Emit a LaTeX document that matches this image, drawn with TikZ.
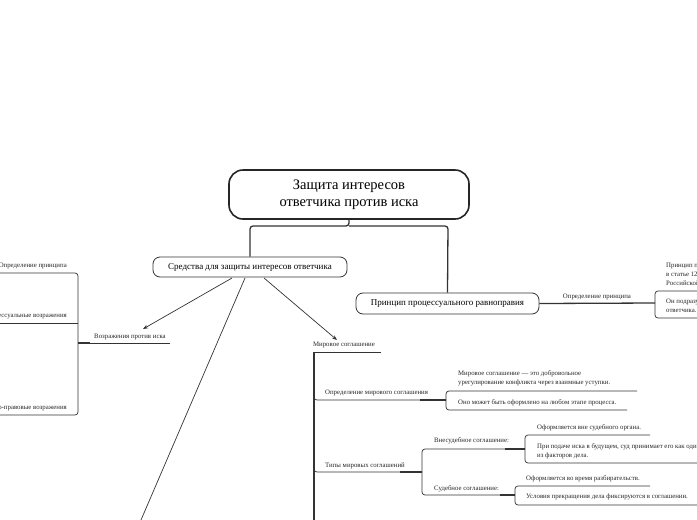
\documentclass[tikz,border=0pt]{standalone}
\usepackage{fontspec}
\setmainfont{Liberation Serif}
\usetikzlibrary{arrows.meta}
\begin{document}
\begin{tikzpicture}[x=1pt,y=-1pt,
  ln/.style={draw=black!80,line width=0.7pt},
  tk/.style={draw=black!80,line width=1.3pt},
  tx/.style={font=\fontsize{6.8}{9}\selectfont,inner sep=0pt,text=black!85},
  bx/.style={draw=black!80,line width=0.8pt,rounded corners=7pt,font=\fontsize{9}{11}\selectfont,inner sep=0pt}]
\useasboundingbox (0,0) rectangle (697,520);
\clip (0,0) rectangle (697,520);
% title
\node[draw=black!85,line width=1.6pt,rounded corners=14pt,minimum width=240pt,minimum height=49pt,align=center,font=\fontsize{14.5}{17}\selectfont] (root) at (349,194.5) {Защита интересов\\ответчика против иска};
\node[bx,minimum width=194pt,minimum height=20pt] (sr) at (250,267) {Средства для защиты интересов ответчика};
\node[bx,minimum width=183pt,minimum height=21pt] (pr) at (447.5,303.5) {Принцип процессуального равноправия};
\draw[tk,rounded corners=3pt] (root.south) -- (349,226) -- (250,226) -- (sr.north);
\draw[tk,rounded corners=3pt] (349,226) -- (448,226) -- (pr.north);
% right branch
\coordinate (rb) at (655,303);
\draw[tk] (pr.east) -- (rb);
\node[tx,anchor=south] (op) at (597,300) {Определение принципа};
\draw[ln,rounded corners=3pt] (697,291) -- (655,291) -- (655,318) -- (697,318);
\node[tx,anchor=west,align=left] (p1) at (666,274.5) {Принцип процессуального равноправия закреплен\\в статье 12 ГПК\\Российской Федерации.};
\node[tx,anchor=west,align=left] (p2) at (666,306) {Он подразумевает равные права истца и\\ответчика.};
% arrows from Средства
\node[tx] (vz) at (130,337) {Возражения против иска};
\node[tx] (ms) at (344,345) {Мировое соглашение};
\draw[ln,-{Stealth[length=5pt]}] (232,278) -- (143,329);
\draw[ln,-{Stealth[length=5pt]}] (264,278) -- (337,340);
\draw[ln] (245,278) -- (141,520);
% left branch
\draw[ln] (78,343) -- (170,343);
\draw[tk] (78,343) -- (90,343);
\draw[ln,rounded corners=3pt] (0,273) -- (78,273) -- (78,415) -- (0,415);
\draw[ln,rounded corners=3pt] (0,323) -- (78,323);
\node[tx,anchor=east] (l1) at (67,266) {Определение принципа};
\node[tx,anchor=east] (l2) at (67,316) {Процессуальные возражения};
\node[tx,anchor=east] (l3) at (67,408) {Материально-правовые возражения};
% Мировое соглашение
\draw[ln] (313,352) -- (381,352);
\draw[tk] (314,352) -- (314,520);
\draw[ln,rounded corners=3pt] (314,395) -- (314,400) -- (446,400);
\draw[tk] (420,400) -- (446,400);
\node[tx,anchor=west] (d0) at (325,393) {Определение мирового соглашения};
\draw[ln,rounded corners=3pt] (637,391) -- (446,391) -- (446,410) -- (627,410);
\node[tx,anchor=west,align=left] (d1) at (458,378) {Мировое соглашение — это добровольное\\урегулирование конфликта через взаимные уступки.};
\node[tx,anchor=west] (d2) at (458,403) {Оно может быть оформлено на любом этапе процесса.};
\draw[ln,rounded corners=3pt] (314,467) -- (314,472) -- (422,472);
\draw[tk] (400,472) -- (422,472);
\node[tx,anchor=west] (t0) at (325,466) {Типы мировых соглашений};
\draw[ln,rounded corners=3pt] (525,449) -- (422,449) -- (422,495) -- (515,495);
\draw[tk] (505,449) -- (525,449);
\draw[tk] (500,495) -- (515,495);
\node[tx,anchor=west] (v0) at (434,441) {Внесудебное соглашение:};
\node[tx,anchor=west] (s0) at (434,489) {Судебное соглашение:};
\draw[ln,rounded corners=3pt] (650,435) -- (525,435) -- (525,463) -- (697,463);
\node[tx,anchor=west] (v1) at (537,428) {Оформляется вне судебного органа.};
\node[tx,anchor=west,align=left] (v2) at (537,451.5) {При подаче иска в будущем, суд принимает его как один\\из факторов дела.};
\draw[ln,rounded corners=3pt] (650,486) -- (515,486) -- (515,505) -- (697,505);
\node[tx,anchor=west] (s1) at (526,479) {Оформляется во время разбирательств.};
\node[tx,anchor=west] (s2) at (526,497) {Условия прекращения дела фиксируются в соглашении.};
\end{tikzpicture}
\end{document}
